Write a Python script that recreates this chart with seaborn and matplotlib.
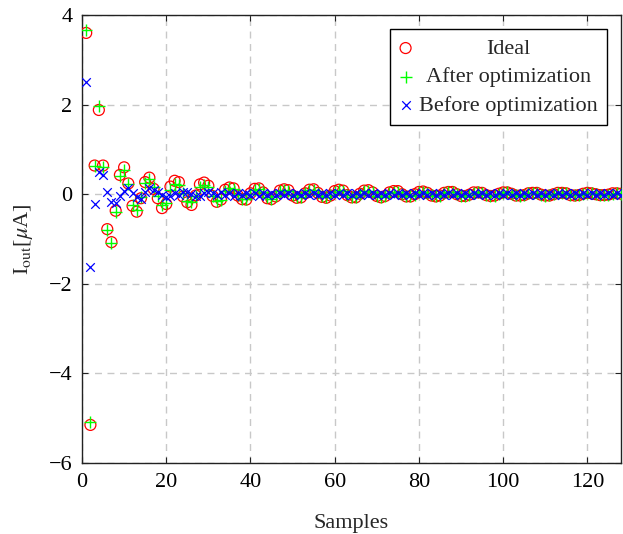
import numpy as np
import pandas as pd
import matplotlib
matplotlib.use("Agg")
import matplotlib.pyplot as plt
import seaborn as sns

samples = list(range(1, 129))

ideal = [
    3.60, -5.15, 0.64, 1.88, 0.64, -0.78, -1.07, -0.37, 0.43, 0.60,
    0.24, -0.26, -0.39, -0.09, 0.27, 0.37, 0.12, -0.09, -0.31, -0.22,
    0.17, 0.30, 0.27, -0.05, -0.18, -0.24, -0.03, 0.22, 0.26, 0.19,
    -0.04, -0.17, -0.12, 0.10, 0.15, 0.13, -0.03, -0.11, -0.12, 0.02,
    0.12, 0.13, 0.04, -0.09, -0.11, -0.05, 0.08, 0.11, 0.09, -0.03,
    -0.08, -0.07, 0.02, 0.10, 0.11, 0.03, -0.06, -0.08, -0.03, 0.07,
    0.10, 0.08, -0.02, -0.07, -0.07, 0.01, 0.08, 0.09, 0.04, -0.04,
    -0.07, -0.04, 0.04, 0.07, 0.07, 0.00, -0.05, -0.05, 0.00, 0.05,
    0.06, 0.03, -0.03, -0.05, -0.03, 0.03, 0.05, 0.05, 0.00, -0.04,
    -0.04, -0.01, 0.04, 0.04, 0.03, -0.02, -0.04, -0.03, 0.01, 0.04,
    0.04, 0.01, -0.03, -0.03, -0.02, 0.02, 0.03, 0.03, -0.01, -0.03,
    -0.03, 0.00, 0.03, 0.03, 0.02, -0.02, -0.03, -0.02, 0.01, 0.03,
    0.02, 0.00, -0.02, -0.02, -0.01, 0.02, 0.02, 0.01,
]

after_opt = [
    3.66, -5.08, 0.62, 1.97, 0.60, -0.80, -1.09, -0.40, 0.40, 0.55,
    0.22, -0.25, -0.36, -0.07, 0.24, 0.33, 0.15, -0.05, -0.24, -0.19,
    0.09, 0.22, 0.21, 0.02, -0.16, -0.17, -0.04, 0.16, 0.20, 0.15,
    -0.03, -0.15, -0.13, 0.08, 0.14, 0.12, -0.02, -0.10, -0.10, 0.01,
    0.10, 0.12, 0.05, -0.07, -0.10, -0.04, 0.07, 0.10, 0.08, -0.02,
    -0.07, -0.06, 0.02, 0.09, 0.10, 0.03, -0.05, -0.07, -0.02, 0.06,
    0.09, 0.07, -0.01, -0.06, -0.06, 0.01, 0.07, 0.08, 0.04, -0.03,
    -0.06, -0.04, 0.03, 0.06, 0.06, 0.01, -0.04, -0.05, -0.01, 0.04,
    0.05, 0.03, -0.02, -0.04, -0.03, 0.02, 0.05, 0.04, 0.01, -0.03,
    -0.04, -0.01, 0.03, 0.04, 0.03, -0.01, -0.03, -0.03, 0.01, 0.03,
    0.04, 0.01, -0.02, -0.03, -0.02, 0.02, 0.03, 0.02, -0.01, -0.03,
    -0.02, 0.00, 0.02, 0.03, 0.02, -0.01, -0.02, -0.02, 0.01, 0.02,
    0.02, 0.00, -0.02, -0.02, -0.01, 0.01, 0.02, 0.01,
]

before_opt = [
    2.50, -1.63, -0.22, 0.50, 0.43, 0.05, -0.17, -0.19, -0.04, 0.07,
    0.13, 0.02, -0.07, -0.11, 0.05, 0.13, 0.10, 0.05, -0.02, -0.06,
    -0.03, 0.02, -0.01, 0.05, 0.06, 0.00, -0.04, -0.03, 0.02, 0.04,
    0.03, -0.02, 0.04, -0.01, 0.03, -0.03, 0.02, -0.02, 0.03, -0.01,
    0.02, -0.03, 0.02, -0.01, 0.03, -0.02, 0.02, -0.02, 0.03, -0.01,
    0.02, -0.02, 0.02, -0.01, 0.02, -0.02, 0.03, -0.01, 0.02, -0.02,
    0.02, -0.02, 0.02, -0.01, 0.02, -0.02, 0.02, -0.02, 0.02, -0.01,
    0.02, -0.02, 0.02, -0.02, 0.02, -0.01, 0.02, -0.02, 0.02, -0.02,
    0.02, -0.01, 0.02, -0.02, 0.02, -0.02, 0.02, -0.01, 0.02, -0.02,
    0.02, -0.02, 0.02, -0.01, 0.02, -0.02, 0.02, -0.02, 0.02, -0.01,
    0.02, -0.02, 0.02, -0.02, 0.02, -0.01, 0.02, -0.02, 0.02, -0.02,
    0.02, -0.01, 0.02, -0.02, 0.02, -0.02, 0.02, -0.01, 0.02, -0.02,
    0.02, -0.02, 0.02, -0.01, 0.02, -0.02, 0.02, -0.02,
]

series_labels = ["Ideal", "After optimization", "Before optimization"]
x_ticks = [0, 20, 40, 60, 80, 100, 120]
y_ticks = [-6, -4, -2, 0, 2, 4]

df = pd.DataFrame({"Samples": samples, "Ideal": ideal,
                   "After": after_opt, "Before": before_opt})

sns.set_style("white")
plt.rcParams["font.family"] = ["Liberation Serif", "DejaVu Serif"]
plt.rcParams["mathtext.fontset"] = "stix"

fs = 16
fig = plt.figure(figsize=(6.23, 5.34), dpi=100)
ax = fig.add_axes([82 / 623, 1 - 463 / 534, (621 - 82) / 623, (463 - 15) / 534])

sns.scatterplot(data=df, x="Samples", y="Ideal", ax=ax, marker="o", s=62,
                facecolor="none", edgecolor="#ff0000", linewidth=0.9,
                label=series_labels[0], zorder=3)
sns.scatterplot(data=df, x="Samples", y="After", ax=ax, marker="+", s=70,
                color="#00ff00", linewidth=1.0, label=series_labels[1], zorder=4)
sns.scatterplot(data=df, x="Samples", y="Before", ax=ax, marker="x", s=38,
                color="#0000ff", linewidth=0.9, label=series_labels[2], zorder=5)

ax.set_xlim(0, 128)
ax.set_ylim(-6, 4)
ax.set_xticks(x_ticks)
ax.set_yticks(y_ticks)
ax.grid(True, color="#c8c8c8", linestyle=(0, (5, 4)), linewidth=1.0)
ax.set_axisbelow(True)
for sp in ax.spines.values():
    sp.set_color("#222222")
    sp.set_linewidth(1.0)
ax.tick_params(direction="in", length=4, width=0.8, colors="#222222",
               labelsize=fs, labelcolor="black", top=True, right=True,
               bottom=True, left=True, pad=7)
ax.set_xlabel("Samples", fontsize=fs, labelpad=16)
ax.set_ylabel(r"I$_{\mathrm{out}}$[$\mu$A]", fontsize=fs, labelpad=10)

leg = ax.legend(loc="upper right", bbox_to_anchor=((607 - 82) / 539, (463 - 29) / 448),
                fontsize=fs, frameon=True, fancybox=False, framealpha=1,
                edgecolor="black", borderpad=0.42, labelspacing=0.36,
                handlelength=0.6, handletextpad=0.3, borderaxespad=0.0)
leg.get_frame().set_linewidth(1.0)

# center legend texts like pgfplots
fig.canvas.draw()
r = fig.canvas.get_renderer()
texts = leg.get_texts()
widths = [t.get_window_extent(r).width for t in texts]
W = max(widths)
for t, w in zip(texts, widths):
    t.set_position(((W - w) / 2, 0))

fig.savefig("out.png", dpi=100)
